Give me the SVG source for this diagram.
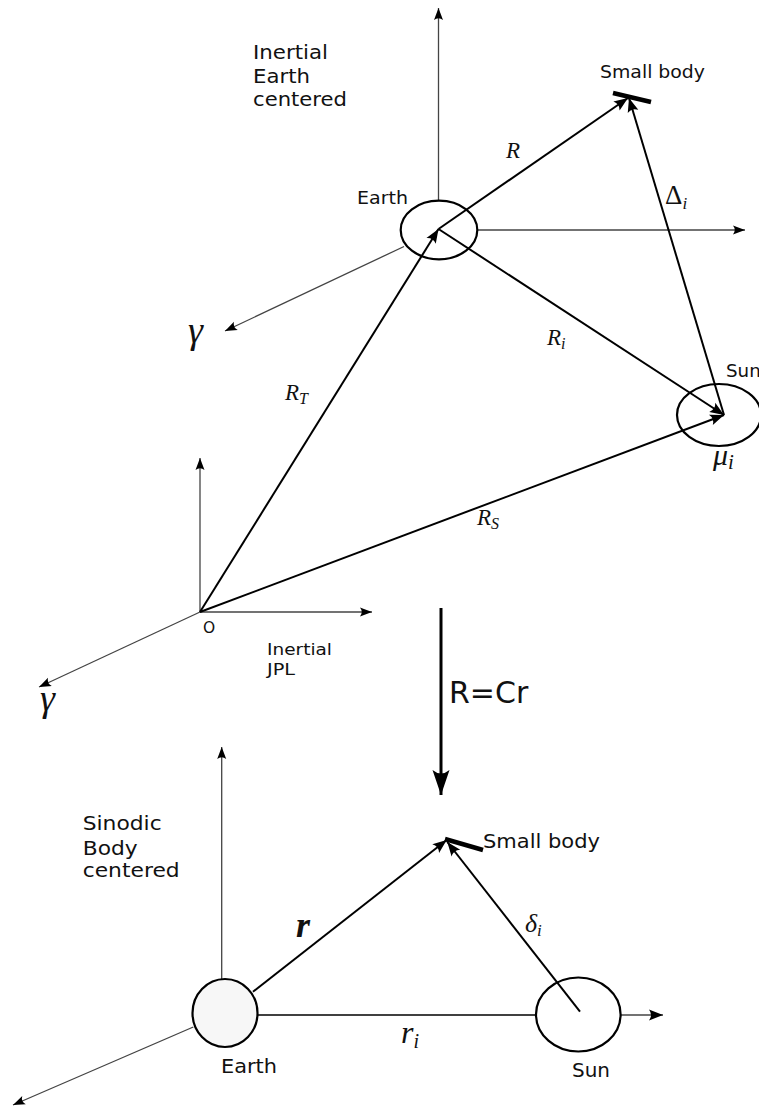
<svg xmlns="http://www.w3.org/2000/svg" width="759" height="1107" viewBox="0 0 759 1107">
<style>
.ax{stroke:#444;stroke-width:1.3;fill:none}
.vec{stroke:#000;stroke-width:2;fill:none}
.body{stroke:#000;stroke-width:2.2;fill:none}
.bar{stroke:#000;stroke-width:4.5;stroke-linecap:butt}
.t{font-family:"DejaVu Sans","Liberation Sans",sans-serif;fill:#111}
.m{font-family:"Liberation Serif","DejaVu Serif",serif;font-style:italic;fill:#111}
.mu{font-family:"Liberation Serif","DejaVu Serif",serif;fill:#111}
</style>
<defs>
<marker id="ah" markerUnits="userSpaceOnUse" viewBox="-16 -8 17 16" markerWidth="17" markerHeight="16" refX="0" refY="0" orient="auto">
<path d="M0,0 L-14,-5.5 Q-10,0 -14,5.5 Z" fill="#000"/>
</marker>
<marker id="ahs" markerUnits="userSpaceOnUse" viewBox="-14 -7 15 14" markerWidth="15" markerHeight="14" refX="0" refY="0" orient="auto">
<path d="M0,0 L-12,-4.5 Q-8.5,0 -12,4.5 Z" fill="#000"/>
</marker>
<marker id="ahb" markerUnits="userSpaceOnUse" viewBox="-27 -10 28 20" markerWidth="28" markerHeight="20" refX="0" refY="0" orient="auto">
<path d="M0,0 L-25,-8.5 Q-18,0 -25,8.5 Z" fill="#000"/>
</marker>
</defs>

<g id="connectors">
<line class="ax" x1="438.5" y1="200.7" x2="438.5" y2="8" marker-end="url(#ahs)"/>
<line class="ax" x1="477" y1="230" x2="745" y2="230" marker-end="url(#ahs)"/>
<line class="ax" x1="404" y1="246.5" x2="225" y2="331" marker-end="url(#ahs)"/>
<line class="ax" x1="200" y1="612" x2="200" y2="458" marker-end="url(#ahs)"/>
<line class="ax" x1="200" y1="612" x2="372" y2="612" marker-end="url(#ahs)"/>
<line class="ax" x1="200" y1="612" x2="39" y2="687" marker-end="url(#ahs)"/>
<line class="vec" x1="438.5" y1="229" x2="628" y2="98" marker-end="url(#ah)"/>
<line class="vec" x1="724" y1="415" x2="629" y2="98" marker-end="url(#ah)"/>
<line class="vec" x1="438.5" y1="229" x2="724" y2="415" marker-end="url(#ah)"/>
<line class="vec" x1="200" y1="612" x2="438.5" y2="229" marker-end="url(#ah)"/>
<line class="vec" x1="200" y1="612" x2="724" y2="415" marker-end="url(#ah)"/>
<line x1="441" y1="608" x2="441" y2="795" stroke="#000" stroke-width="3" marker-end="url(#ahb)"/>
<line class="ax" x1="221.7" y1="979" x2="221.7" y2="747" marker-end="url(#ahs)"/>
<line class="ax" x1="620.7" y1="1015" x2="663" y2="1015" marker-end="url(#ah)"/>
<line class="ax" x1="193.3" y1="1027" x2="13" y2="1105" marker-end="url(#ahs)"/>
<line class="vec" x1="253" y1="991.7" x2="446.7" y2="840" marker-end="url(#ah)"/>
<line class="vec" x1="580" y1="1011.7" x2="447.3" y2="842" marker-end="url(#ah)"/>
<line x1="257.7" y1="1015" x2="536.5" y2="1015" stroke="#000" stroke-width="1.6"/>
</g>

<g id="frame-top-label">
<text class="t" font-size="19.5"><tspan x="253" y="59" textLength="75" lengthAdjust="spacingAndGlyphs">Inertial</tspan><tspan x="253" y="83" textLength="57" lengthAdjust="spacingAndGlyphs">Earth</tspan><tspan x="253" y="106" textLength="94" lengthAdjust="spacingAndGlyphs">centered</tspan></text>
</g>

<g id="earth-top">
<ellipse class="body" cx="439" cy="230" rx="38.3" ry="29.3"/>
<text class="t" x="357" y="204" font-size="18.3" textLength="51" lengthAdjust="spacingAndGlyphs">Earth</text>
</g>

<g id="smallbody-top">
<line class="bar" x1="613" y1="93" x2="651" y2="102"/>
<text class="t" x="600" y="78" font-size="18.3" textLength="105" lengthAdjust="spacingAndGlyphs">Small body</text>
</g>

<g id="sun-top">
<ellipse class="body" cx="719" cy="415" rx="42" ry="31"/>
<text class="t" x="726" y="377" font-size="18.3">Sun</text>
<text class="m" x="713" y="465" font-size="30">μ<tspan font-size="21" dy="4">i</tspan></text>
</g>

<g id="origin">
<text class="t" x="203" y="632.7" font-size="15.5">O</text>
<text class="t" font-size="16.5"><tspan x="267" y="655" textLength="65" lengthAdjust="spacingAndGlyphs">Inertial</tspan><tspan x="267" y="675" textLength="28" lengthAdjust="spacingAndGlyphs">JPL</tspan></text>
</g>

<g id="labels-top">
<text class="m" x="506" y="158" font-size="23">R</text>
<text class="mu" x="665" y="204" font-size="27">Δ<tspan class="m" font-size="17" dy="5">i</tspan></text>
<text class="m" x="547" y="345" font-size="23">R<tspan font-size="16" dy="4">i</tspan></text>
<text class="m" x="285" y="400" font-size="23">R<tspan font-size="16" dy="4">T</tspan></text>
<text class="m" x="477" y="525" font-size="23">R<tspan font-size="16" dy="4">S</tspan></text>
<text class="m" x="188" y="343" font-size="38">γ</text>
<text class="m" x="40" y="711" font-size="38">γ</text>
</g>

<g id="transform">
<text class="t" x="449" y="703" font-size="30">R=Cr</text>
</g>

<g id="frame-bottom-label">
<text class="t" font-size="20"><tspan x="82.7" y="830" textLength="79" lengthAdjust="spacingAndGlyphs">Sinodic</tspan><tspan x="82.7" y="855" textLength="55" lengthAdjust="spacingAndGlyphs">Body</tspan><tspan x="82.7" y="877.3" textLength="97" lengthAdjust="spacingAndGlyphs">centered</tspan></text>
</g>

<g id="earth-bottom">
<ellipse cx="225" cy="1013" rx="32.5" ry="34" fill="#f7f7f7" stroke="#000" stroke-width="2.2"/>
<text class="t" x="221" y="1073" font-size="19" textLength="56" lengthAdjust="spacingAndGlyphs">Earth</text>
</g>

<g id="smallbody-bottom">
<line class="bar" x1="445" y1="839" x2="483" y2="850"/>
<text class="t" x="483" y="848" font-size="20" textLength="117" lengthAdjust="spacingAndGlyphs">Small body</text>
</g>

<g id="sun-bottom">
<ellipse class="body" cx="578.3" cy="1014.5" rx="42.3" ry="37"/>
<text class="t" x="572" y="1077" font-size="19" textLength="38" lengthAdjust="spacingAndGlyphs">Sun</text>
</g>

<g id="labels-bottom">
<text class="m" x="296" y="937" font-size="36" font-weight="bold">r</text>
<text class="m" x="525" y="932" font-size="26">δ<tspan font-size="17" dy="4">i</tspan></text>
<text class="m" x="401" y="1043" font-size="32">r<tspan font-size="20" dy="5">i</tspan></text>
</g>
</svg>
